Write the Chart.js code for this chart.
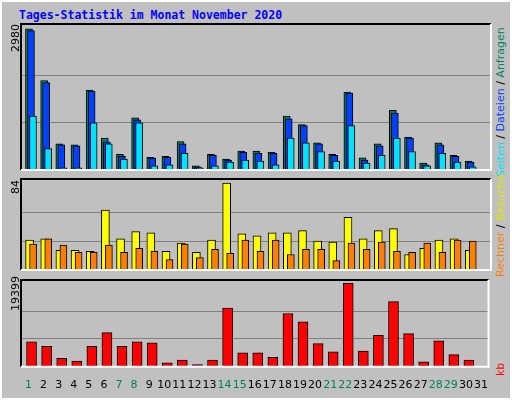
<!DOCTYPE html>
<html><head><meta charset="utf-8">
<script src="https://cdn.jsdelivr.net/npm/chart.js@4"></script>
<style>
body{margin:0;background:#c0c0c0;}
#wrap{position:absolute;left:0;top:0;background:#c0c0c0;border:2px solid #fff;outline:1px solid #000;box-sizing:border-box;width:512px;height:400px;}
canvas{position:absolute;}
.rot{position:absolute;transform:rotate(-90deg);transform-origin:0 0;white-space:nowrap;font:11px "DejaVu Sans";line-height:12px;}
#title{position:absolute;left:19px;top:8px;font:bold 11.5px "DejaVu Sans Mono";color:#0000ff;}
</style></head><body>
<div id="wrap"></div>
<div id="title">Tages-Statistik im Monat November 2020</div>
<canvas id="c1"></canvas><canvas id="c2"></canvas><canvas id="c3"></canvas>
<div class="rot" style="left:10px;top:52px;color:#000">2980</div>
<div class="rot" style="left:10px;top:194px;color:#000">84</div>
<div class="rot" style="left:10px;top:311px;color:#000">19399</div>
<div class="rot" style="left:495px;top:177px;"><span style="color:#00e0ff">Seiten</span> / <span style="color:#0040ff">Dateien</span> / <span style="color:#008060">Anfragen</span></div>
<div class="rot" style="left:495px;top:277px;"><span style="color:#ff8000">Rechner</span> / <span style="color:#e0e000">Besuche</span></div>
<div class="rot" style="left:495px;top:376px;color:#ff0000">kb</div>
<script>
const days=['1','2','3','4','5','6','7','8','9','10','11','12','13','14','15','16','17','18','19','20','21','22','23','24','25','26','27','28','29','30','31'];
const weekend=[1,7,8,14,15,21,22,28,29];
const hits=[2980,1888,553,533,1686,674,330,1099,270,290,600,88,330,229,398,398,371,1139,957,573,330,1645,256,553,1261,694,148,573,310,189,0];
const files=[2940,1847,533,512,1665,593,290,1058,249,270,553,67,310,209,371,351,351,1079,937,553,310,1625,209,512,1200,674,108,533,290,169,0];
const pages=[1139,452,47,47,998,553,229,998,88,108,351,47,88,169,209,189,108,674,573,391,189,937,148,310,674,391,88,351,169,67,0];
const visits=[29,30,19,19,18,58,30,37,36,18,26,17,29,84,35,33,36,36,38,28,27,51,30,38,40,15,21,29,30,19,0];
const hosts=[25,30,24,17,17,24,17,21,18,10,25,12,20,16,29,18,29,15,20,20,9,26,20,27,18,17,26,17,29,28,0];
const kbytes=[5806,4744,1982,1345,4744,7930,4744,5806,5593,920,1558,496,1558,13664,3257,3257,2195,12390,10478,5381,3469,19399,3682,7292,15151,7717,1133,6018,2832,1558,0];
const maxes=[2980,84,19399];

const shift={id:'shift',afterDatasetsUpdate(ch){ch.data.datasets.forEach((ds,i)=>{ch.getDatasetMeta(i).data.forEach(el=>{el.x+=ds.shiftPx;});});}};
const frame={id:'frame',afterDraw(ch){const a=ch.chartArea,c=ch.ctx;c.save();c.lineWidth=2;
 c.strokeStyle='#000';c.beginPath();c.moveTo(a.left,a.bottom);c.lineTo(a.left,a.top);c.lineTo(a.right,a.top);c.stroke();
 c.strokeStyle='#fff';c.beginPath();c.moveTo(a.right,a.top);c.lineTo(a.right,a.bottom);c.lineTo(a.left,a.bottom);c.stroke();c.restore();}};

function mk(id,top,h,datasets,dmax,ymax,showX){
 const cv=document.getElementById(id);cv.style.left='20px';cv.style.top=top+'px';
 cv.width=472;cv.height=h;
 new Chart(cv,{type:'bar',data:{labels:days,datasets:datasets.map(d=>Object.assign({borderColor:'#000',borderWidth:1,grouped:false,borderSkipped:false},d))},
 options:{responsive:false,animation:false,events:[],devicePixelRatio:1,layout:{padding:{left:1,right:1,top:1,bottom:0}},
  plugins:{legend:{display:false},tooltip:{enabled:false}},
  scales:{x:{grid:{display:false},border:{display:false},ticks:{display:showX,padding:4,autoSkip:false,maxRotation:0,font:{family:'DejaVu Sans',size:11},color:c=>weekend.includes(+days[c.index])?'#008060':'#000'}},
   y:{min:0,max:ymax,grid:{color:'#808080',lineWidth:1,drawTicks:false},border:{display:false},ticks:{display:false},
    afterBuildTicks:s=>{s.ticks=[{value:dmax/3},{value:2*dmax/3}];}}}},plugins:[shift,frame]});
}
mk('c1',23,155,[
 {data:pages,backgroundColor:'#00e0ff',barThickness:7,shiftPx:4.4},
 {data:files,backgroundColor:'#0040ff',barThickness:7,shiftPx:2.4},
 {data:hits,backgroundColor:'#008060',barThickness:7,shiftPx:0.4}],maxes[0],maxes[0]*152/147,false);
mk('c2',178,100,[
 {data:hosts,backgroundColor:'#ff8000',barThickness:7,shiftPx:4.5},
 {data:visits,backgroundColor:'#ffff00',barThickness:8,shiftPx:1}],maxes[1],maxes[1]*96.7/92.4,false);
mk('c3',279,117,[
 {data:kbytes,backgroundColor:'#ff0000',barThickness:10,shiftPx:3}],maxes[2],maxes[2]*95/91.3,true);
</script></body></html>
